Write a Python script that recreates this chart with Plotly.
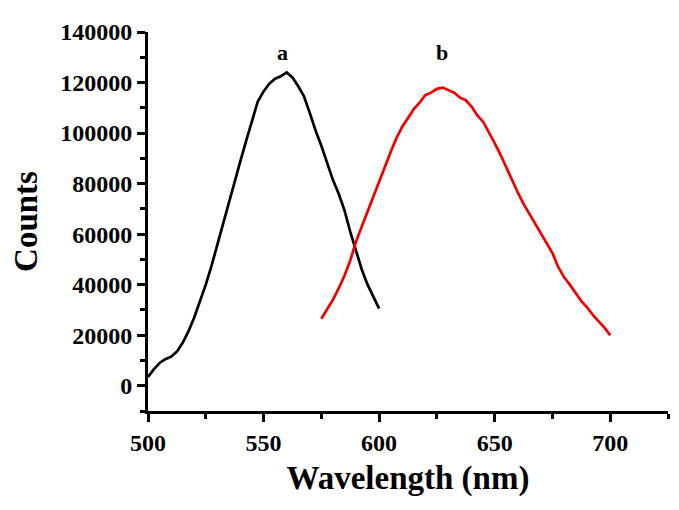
import plotly.graph_objects as go

# emission spectra (wavelength in nm, counts)
wl_a = [500, 502.5, 505, 507.5, 510, 512.5, 515, 517.5, 520, 522.5, 525, 527.5,
        530, 532.5, 535, 537.5, 540, 542.5, 545, 547.5, 550, 552.5, 555, 557.5,
        560, 562.5, 565, 567.5, 570, 572.5, 575, 577.5, 580, 582.5, 585, 587.5,
        590, 592.5, 595, 597.5, 600]
counts_a = [3500, 6500, 9000, 10500, 11500, 13500, 17000, 21500, 27000, 33500,
            40000, 47500, 56000, 64000, 72500, 81000, 89000, 97000, 105000,
            112500, 116500, 119500, 121500, 122500, 124000, 122000, 118500,
            114500, 108000, 101000, 95000, 88000, 81500, 76000, 69500, 61000,
            53000, 46000, 40000, 35000, 30500]

wl_b = [575, 577.5, 580, 582.5, 585, 587.5, 590, 592.5, 595, 597.5, 600, 602.5,
        605, 607.5, 610, 612.5, 615, 617.5, 620, 622.5, 625, 627.5, 630, 632.5,
        635, 637.5, 640, 642.5, 645, 647.5, 650, 652.5, 655, 657.5, 660, 662.5,
        665, 667.5, 670, 672.5, 675, 677.5, 680, 682.5, 685, 687.5, 690, 692.5,
        695, 697.5, 700]
counts_b = [26500, 30000, 34000, 38500, 43500, 49500, 57000, 63000, 69000, 75000,
            81000, 87000, 92500, 98000, 102500, 106000, 109500, 112000, 115000,
            116000, 117500, 118000, 117000, 116000, 114000, 113000, 110500,
            107000, 104500, 100500, 96000, 91500, 86500, 81000, 76500, 72000,
            68000, 64000, 60000, 56500, 52500, 47000, 43000, 40000, 36500,
            33500, 31000, 28000, 25500, 23000, 20000]

labels = ["a", "b"]
label_x = [558, 627]
label_y = [132000, 132000]

FONT = "Liberation Serif, Times New Roman, serif"

fig = go.Figure()
fig.add_trace(go.Scatter(x=wl_a, y=counts_a, mode="lines",
                         line=dict(color="black", width=2.7), name="a"))
fig.add_trace(go.Scatter(x=wl_b, y=counts_b, mode="lines",
                         line=dict(color="#ee0000", width=2.7), name="b"))

for txt, lx, ly in zip(labels, label_x, label_y):
    fig.add_annotation(x=lx, y=ly, text=txt, showarrow=False,
                       font=dict(family=FONT, size=22, color="black", weight="bold"))

axis_common = dict(
    showline=True, linecolor="black", linewidth=3,
    showgrid=False, zeroline=False, mirror=False,
    ticks="outside", ticklen=8, tickwidth=2.5, tickcolor="black",
    tickfont=dict(family=FONT, size=24, color="black", weight="bold"),
)

fig.update_xaxes(
    range=[500, 725], tickvals=[500, 550, 600, 650, 700],
    minor=dict(ticks="outside", ticklen=5, tickwidth=2.5, tickcolor="black",
               tickvals=[525, 575, 625, 675, 725]),
    title=dict(text="Wavelength (nm)", standoff=12,
               font=dict(family=FONT, size=33, color="black", weight="bold")),
    **axis_common,
)
fig.update_yaxes(
    range=[-10000, 140000], dtick=20000, tick0=0, tickformat="d",
    minor=dict(ticks="outside", ticklen=5, tickwidth=2.5, tickcolor="black",
               dtick=10000, tick0=0),
    title=dict(text="Counts", standoff=14,
               font=dict(family=FONT, size=33, color="black", weight="bold")),
    **axis_common,
)

# page body adds an 8px margin, so the figure is a bit smaller than the window
fig.update_layout(
    width=671, height=502,
    margin=dict(l=140, r=11, t=21, b=99),
    plot_bgcolor="white", paper_bgcolor="white",
    showlegend=False,
)

fig.write_html("out.html")
